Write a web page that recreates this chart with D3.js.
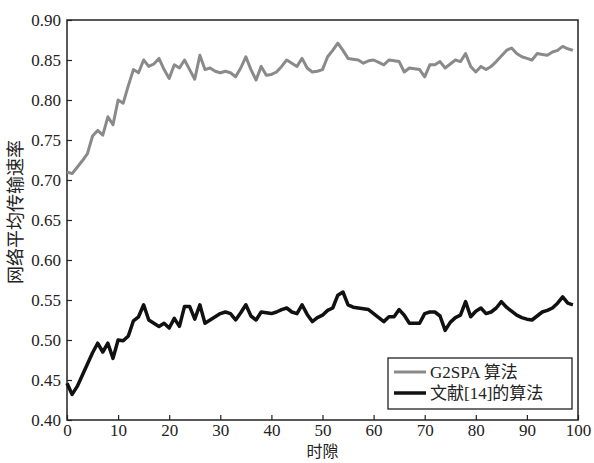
<!DOCTYPE html>
<html>
<head>
<meta charset="utf-8">
<script src="https://cdn.jsdelivr.net/npm/d3@7"></script>
<style>
  body { margin: 0; background: #fff; }
  text { font-family: "Liberation Serif", "Noto Sans CJK SC", serif; fill: #222; }
</style>
</head>
<body>
<svg id="chart" width="594" height="463"></svg>
<script>
'use strict';

// time slots 0..99
const slots = d3.range(0, 100);

// G2SPA 算法
const g2spa = [
  0.710, 0.708, 0.716, 0.724, 0.733, 0.755, 0.762, 0.756, 0.779, 0.769,
  0.800, 0.796, 0.818, 0.838, 0.834, 0.850, 0.842, 0.845, 0.852, 0.838,
  0.827, 0.844, 0.840, 0.850, 0.838, 0.826, 0.856, 0.838, 0.840, 0.836,
  0.834, 0.836, 0.834, 0.829, 0.840, 0.854, 0.838, 0.825, 0.842, 0.831,
  0.832, 0.835, 0.842, 0.850, 0.846, 0.842, 0.852, 0.840, 0.835, 0.836,
  0.838, 0.854, 0.862, 0.871, 0.862, 0.852, 0.851, 0.850, 0.846, 0.849,
  0.850, 0.847, 0.844, 0.850, 0.849, 0.848, 0.835, 0.840, 0.839, 0.838,
  0.829, 0.844, 0.844, 0.848, 0.840, 0.845, 0.850, 0.848, 0.858, 0.842,
  0.835, 0.842, 0.838, 0.842, 0.848, 0.855, 0.862, 0.865, 0.858, 0.854,
  0.852, 0.850, 0.858, 0.857, 0.856, 0.860, 0.862, 0.867, 0.864, 0.862
];

// 文献[14]的算法
const ref14 = [
  0.446, 0.432, 0.442, 0.456, 0.470, 0.484, 0.496, 0.485, 0.496, 0.477,
  0.500, 0.499, 0.505, 0.524, 0.529, 0.544, 0.525, 0.521, 0.517, 0.521,
  0.515, 0.527, 0.517, 0.542, 0.542, 0.526, 0.544, 0.521, 0.525, 0.529,
  0.533, 0.535, 0.533, 0.525, 0.534, 0.544, 0.530, 0.525, 0.535, 0.534,
  0.533, 0.535, 0.538, 0.540, 0.535, 0.533, 0.544, 0.532, 0.523, 0.528,
  0.531, 0.537, 0.540, 0.556, 0.560, 0.544, 0.541, 0.540, 0.539, 0.538,
  0.533, 0.528, 0.523, 0.529, 0.529, 0.538, 0.531, 0.521, 0.521, 0.521,
  0.533, 0.535, 0.535, 0.530, 0.512, 0.522, 0.528, 0.531, 0.548, 0.529,
  0.536, 0.540, 0.533, 0.535, 0.540, 0.548, 0.541, 0.536, 0.531, 0.528,
  0.526, 0.525, 0.530, 0.535, 0.537, 0.540, 0.546, 0.554, 0.546, 0.544
];

const xTicks = [0, 10, 20, 30, 40, 50, 60, 70, 80, 90, 100];
const yTicks = [0.40, 0.45, 0.50, 0.55, 0.60, 0.65, 0.70, 0.75, 0.80, 0.85, 0.90];
const seriesNames = ['G2SPA 算法', '文献[14]的算法'];

const svg = d3.select('#chart');
const margin = { left: 67, right: 16, top: 20, bottom: 43 };
const width = 594 - margin.left - margin.right;
const height = 463 - margin.top - margin.bottom;

const x = d3.scaleLinear().domain([0, 100]).range([0, width]);
const y = d3.scaleLinear().domain([0.40, 0.90]).range([height, 0]);

const g = svg.append('g').attr('transform', `translate(${margin.left},${margin.top})`);

// axes with inward ticks
const xAxis = g.append('g')
  .attr('transform', `translate(0,${height})`)
  .call(d3.axisBottom(x).tickValues(xTicks).tickSize(-5).tickPadding(4).tickFormat(d3.format('d')));
const yAxis = g.append('g')
  .call(d3.axisLeft(y).tickValues(yTicks).tickSize(-5).tickPadding(6).tickFormat(d3.format('.2f')));

[xAxis, yAxis].forEach(a => {
  a.select('.domain').remove();
  a.selectAll('line').attr('stroke', '#222').attr('stroke-width', 1.2);
  a.selectAll('text').attr('font-size', 17)
    .attr('font-family', '"Liberation Serif", serif').attr('fill', '#333');
});

// frame
g.append('rect')
  .attr('width', width).attr('height', height)
  .attr('fill', 'none').attr('stroke', '#222').attr('stroke-width', 1.5);

const line = vals => d3.line()
  .x((d, i) => x(slots[i]))
  .y(d => y(d))(vals);

g.append('path').attr('d', line(g2spa))
  .attr('fill', 'none').attr('stroke', '#8a8a8a').attr('stroke-width', 3)
  .attr('stroke-linejoin', 'round');
g.append('path').attr('d', line(ref14))
  .attr('fill', 'none').attr('stroke', '#111').attr('stroke-width', 3.5)
  .attr('stroke-linejoin', 'round');

// legend
const legend = g.append('g').attr('transform', `translate(${width - 190},${height - 62})`);
legend.append('rect')
  .attr('width', 184).attr('height', 51)
  .attr('fill', '#fff').attr('stroke', '#222').attr('stroke-width', 1.3);
const colors = ['#8a8a8a', '#111'];
seriesNames.forEach((name, i) => {
  const row = legend.append('g').attr('transform', `translate(0,${14 + i * 21})`);
  row.append('line').attr('x1', 6).attr('x2', 38)
    .attr('stroke', colors[i]).attr('stroke-width', i ? 3.5 : 3);
  row.append('text').attr('x', 42).attr('y', 6)
    .attr('font-size', 17).text(name);
});

// axis titles
svg.append('text')
  .attr('x', margin.left + width / 2).attr('y', 457)
  .attr('text-anchor', 'middle').attr('font-size', 16)
  .text('时隙');
svg.append('text')
  .attr('transform', `translate(22,${margin.top + height / 2 - 8}) rotate(-90)`)
  .attr('text-anchor', 'middle').attr('font-size', 18)
  .text('网络平均传输速率');
</script>
</body>
</html>
